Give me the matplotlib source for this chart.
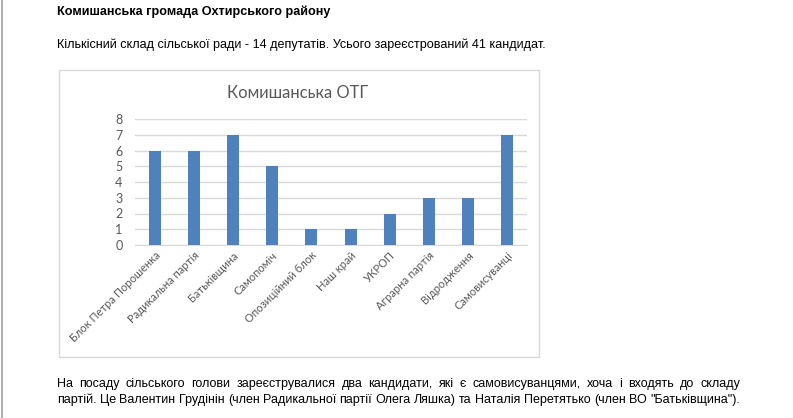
import matplotlib
matplotlib.use("Agg")
import matplotlib.pyplot as plt
from matplotlib.patches import Rectangle
from matplotlib.lines import Line2D
import numpy as np

W, H = 793, 418

# ---------- data ----------
parties = ["Блок Петра Порошенка", "Радикальна партія", "Батьківщина", "Самопоміч",
           "Опозиційний блок", "Наш край", "УКРОП", "Аграрна партія",
           "Відродження", "Самовисуванці"]
seats = [6, 6, 7, 5, 1, 1, 2, 3, 3, 7]
y_ticks = [0, 1, 2, 3, 4, 5, 6, 7, 8]

heading = "Комишанська громада Охтирського району"
intro = "Кількісний склад сільської ради - 14 депутатів. Усього зареєстрований 41 кандидат."
chart_title = "Комишанська ОТГ"
para_line1 = ("На посаду сільського голови зареєструвалися два кандидати, які є самовисуванцями, "
              "хоча і входять до складу")
para_line2 = ("партій. Це Валентин Грудінін (член Радикальної партії Олега Ляшка) та "
              "Наталія Перетятько (член ВО \"Батьківщина\").")

doc_font = ["Liberation Sans Narrow", "Liberation Sans", "DejaVu Sans"]
chart_font = ["Lato", "DejaVu Sans"]

fig = plt.figure(figsize=(W / 100, H / 100), dpi=100)
fig.patch.set_facecolor("white")


def px(x, y):
    return x / W, 1 - y / H


# page edge on the left
fig.add_artist(Line2D([1.5 / W, 1.5 / W], [0, 1], color="#a0a0a0", lw=1.2))

# document text
fig.text(*px(57, 12), heading, family=doc_font, fontsize=9.1, weight="bold",
         va="center", ha="left", color="black")
fig.text(*px(57, 45), intro, family=doc_font, fontsize=9.1,
         va="center", ha="left", color="black")


def justified(text, x0, x1, y, size):
    words = text.split(" ")
    r = fig.canvas.get_renderer()
    arts = [fig.text(0, 0, w, family=doc_font, fontsize=size, va="center",
                     ha="left", color="black") for w in words]
    widths = [a.get_window_extent(r).width for a in arts]
    gap = ((x1 - x0) - sum(widths)) / (len(words) - 1)
    x = x0
    for a, w in zip(arts, widths):
        a.set_position(px(x, y))
        x += w + gap


justified(para_line1, 57, 740, 384, 9.0)
justified(para_line2, 57, 740, 400, 9.0)

# chart frame
fig.add_artist(Rectangle(px(59, 357), 480 / W, 287 / H, transform=fig.transFigure,
                         facecolor="white", edgecolor="#d9d9d9", lw=1, zorder=-5))
fig.text(*px(298, 93), chart_title, family=chart_font, fontsize=11.9,
         color="#595959", ha="center", va="center")

ax = fig.add_axes([135 / W, 1 - 245 / H, 392 / W, 126 / H])
ax.set_zorder(2)
x = np.arange(len(parties))
ax.bar(x, seats, width=0.31, color="#4f81bd", zorder=3)
ax.set_xlim(-0.5, len(parties) - 0.5)
ax.set_ylim(0, 8)
ax.set_yticks(y_ticks)
ax.yaxis.grid(True, color="#d9d9d9", lw=1)
ax.set_axisbelow(True)
for s in ["top", "right", "left"]:
    ax.spines[s].set_visible(False)
ax.spines["bottom"].set_color("#d9d9d9")
ax.tick_params(length=0, colors="#595959")
ax.tick_params(axis="y", pad=9, labelsize=9)
ax.set_xticks(x)
ax.set_xticklabels(parties, rotation=45, ha="right", rotation_mode="anchor",
                   family=chart_font, fontsize=8, color="#595959")
for t in ax.get_yticklabels():
    t.set_family(chart_font)
ax.patch.set_alpha(0)

fig.savefig("out.png", dpi=100)
